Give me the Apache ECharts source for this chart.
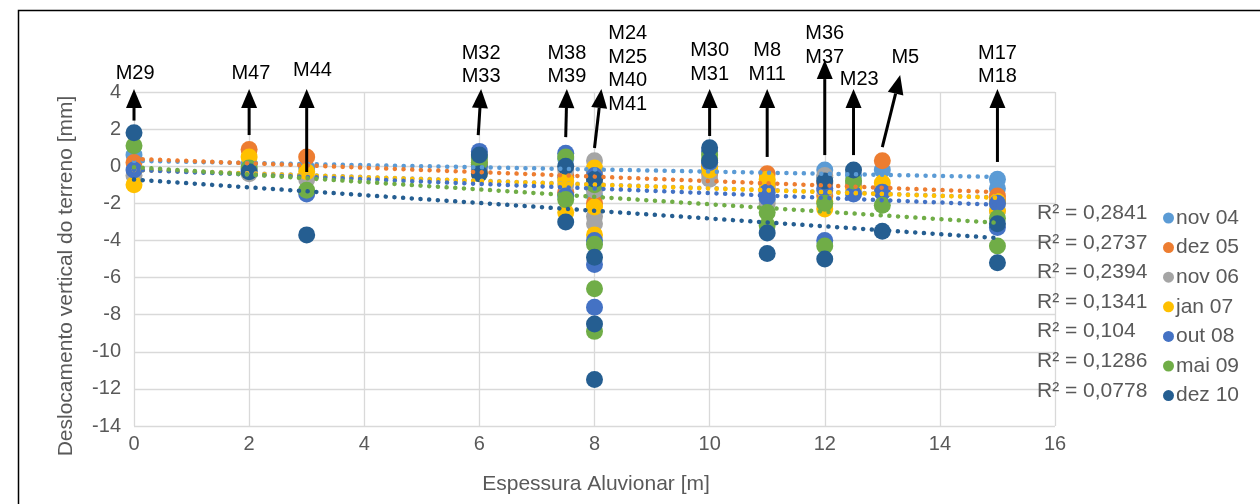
<!DOCTYPE html>
<html>
<head>
<meta charset="utf-8">
<script src="https://cdn.jsdelivr.net/npm/echarts@6/dist/echarts.min.js"></script>
<style>
  html, body { margin: 0; padding: 0; background: #fff; }
  #main { width: 1260px; height: 504px; }
</style>
</head>
<body>
<div id="main"></div>
<script>
// Alluvial thickness [m] of each benchmark (one entry per benchmark)
const thickness = [0, 2, 3, 6, 6, 7.5, 7.5, 8, 8, 8, 8, 10, 10, 11, 11, 12, 12, 12.5, 13, 15, 15];

// Vertical ground displacement [mm] per survey campaign
const seriesNames = ['nov 04', 'dez 05', 'nov 06', 'jan 07', 'out 08', 'mai 09', 'dez 10'];
const nov04 = [0.6, 0.1, -0.1, 0.4, 0.1, 0.4, -0.6, -0.3, -0.8, -1.2, -1.6, 0.2, -0.2, -1.0, -1.8, -0.2, -0.6, -0.5, -0.2, -0.7, -1.2];
const dez05 = [0.2, 0.9, 0.5, 0.2, -0.3, -0.5, -1.4, -0.2, -0.6, -1.0, -2.0, 0.0, -0.4, -0.4, -1.2, -0.9, -1.6, -1.0, 0.3, -1.6, -1.8];
const nov06 = [-0.5, -0.4, -0.7, 0.3, -0.2, -0.2, -1.0, 0.3, -1.3, -2.7, -3.1, -0.3, -0.7, -0.9, -2.0, -0.5, -1.3, -0.9, -1.2, -2.0, -2.4];
const jan07 = [-1.0, 0.5, -0.3, 0.1, -0.4, -0.8, -2.5, -0.1, -0.6, -2.2, -3.7, 0.0, -0.2, -0.7, -1.0, -1.9, -2.3, -1.2, -0.9, -1.9, -2.4];
const out08 = [-0.2, -0.2, -1.5, 0.8, 0.0, 0.7, -1.6, -0.5, -4.0, -5.3, -7.6, 0.8, 0.2, -1.4, -1.7, -1.2, -4.0, -1.5, -1.4, -2.0, -3.3];
const mai09 = [1.1, -0.1, -1.3, 0.5, 0.2, 0.5, -1.8, -1.0, -4.2, -6.6, -8.9, 0.6, 0.4, -2.5, -3.2, -2.0, -4.3, -0.8, -2.1, -2.8, -4.3];
const dez10 = [1.8, -0.3, -3.7, 0.6, -0.4, 0.0, -3.0, -0.7, -4.9, -8.5, -11.5, 1.0, 0.3, -3.6, -4.7, -0.8, -5.0, -0.2, -3.5, -3.1, -5.2];
const seriesValues = [nov04, dez05, nov06, jan07, out08, mai09, dez10];

// Linear trend lines: value at 0 m and at 15 m, with their R²
const trendStart = [0.29, 0.40, -0.18, -0.20, -0.20, -0.05, -0.72];
const trendEnd = [-0.58, -1.40, -1.68, -1.70, -2.08, -3.05, -3.87];
const trendRange = [0, 15];
const r2Labels = ['0,2841', '0,2737', '0,2394', '0,1341', '0,104', '0,1286', '0,0778'];

// Axis ticks
const xTicks = { min: 0, max: 16, step: 2 };
const yTicks = { min: -14, max: 4, step: 2 };

// Benchmark call-outs (data units): label lines, arrow tail, arrow tip, label anchor
const calloutText = [['M29'], ['M47'], ['M44'], ['M32', 'M33'], ['M38', 'M39'], ['M24', 'M25', 'M40', 'M41'],
  ['M30', 'M31'], ['M8', 'M11'], ['M36', 'M37'], ['M23'], ['M5'], ['M17', 'M18']];
const calloutTail = [[0, 2.46], [2, 1.68], [3, -0.31], [5.98, 1.68], [7.5, 1.57], [8.0, 0.98],
  [10, 1.63], [11, 0.5], [12, 0.6], [12.5, 0.6], [13, 1.03], [15, 0.23]];
const calloutTip = [[0, 4.16], [2, 4.16], [3, 4.16], [6.03, 4.16], [7.52, 4.16], [8.12, 4.16],
  [10, 4.16], [11, 4.16], [12, 5.72], [12.5, 4.16], [13.31, 4.91], [15, 4.16]];
const calloutAnchor = [[0.02, 5.02], [2.03, 5.02], [3.1, 5.18], [6.03, 4.81], [7.52, 4.81], [8.24, 3.35],
  [10, 4.97], [11, 4.97], [12, 5.88], [12.6, 4.70], [13.4, 5.88], [15, 4.81]];
const calloutAlign = ['center', 'center', 'center', 'center', 'center', 'left',
  'center', 'center', 'center', 'center', 'center', 'center'];

const colors = ['#5B9BD5', '#ED7D31', '#A5A5A5', '#FFC000', '#4472C4', '#70AD47', '#255E91'];
const FONT = '"Liberation Sans", Arial, sans-serif';
const GREY = '#595959';

const chart = echarts.init(document.getElementById('main'), null, { renderer: 'canvas' });

const series = [];
seriesNames.forEach((name, i) => {
  series.push({
    name: name,
    type: 'scatter',
    symbol: 'circle',
    symbolSize: 17,
    itemStyle: { color: colors[i], opacity: 1 },
    z: 2,
    data: thickness.map((x, k) => [x, seriesValues[i][k]])
  });
});
seriesNames.forEach((name, i) => {
  series.push({
    name: 'tendência ' + name,
    type: 'line',
    showSymbol: false,
    symbol: 'none',
    silent: true,
    z: 3,
    lineStyle: { color: colors[i], width: 4.5, type: [0.1, 8.6], cap: 'round' },
    data: [[trendRange[0], trendStart[i]], [trendRange[1], trendEnd[i]]]
  });
});

chart.setOption({
  animation: false,
  color: colors,
  grid: { left: 134, right: 205, top: 92, bottom: 78, containLabel: false },
  xAxis: {
    type: 'value', min: xTicks.min, max: xTicks.max, interval: xTicks.step,
    axisLine: { show: false }, axisTick: { show: false },
    axisLabel: { color: GREY, fontSize: 20, fontFamily: FONT, margin: 8 },
    splitLine: { show: true, lineStyle: { color: '#D9D9D9', width: 1.3 } }
  },
  yAxis: {
    type: 'value', min: yTicks.min, max: yTicks.max, interval: yTicks.step,
    axisLine: { show: false }, axisTick: { show: false },
    axisLabel: { color: GREY, fontSize: 20, fontFamily: FONT, margin: 13 },
    splitLine: { show: true, lineStyle: { color: '#D9D9D9', width: 1.3 } }
  },
  legend: {
    data: seriesNames,
    orient: 'vertical',
    left: 1158, top: 202.5,
    icon: 'circle', itemWidth: 11, itemHeight: 11, itemGap: 8.6,
    textStyle: { color: GREY, fontSize: 21, fontFamily: FONT, lineHeight: 21, padding: [0, 0, 0, -3] }
  },
  series: series
});

// Overlay: frame, axis titles, R² labels and benchmark call-outs
const g = [];
g.push({ type: 'rect', shape: { x: 18.5, y: 10.5, width: 1400, height: 700 }, style: { fill: 'none', stroke: '#000', lineWidth: 1.5 }, z: 100 });
g.push({ type: 'text', x: 596, y: 484, style: { text: 'Espessura Aluvionar [m]', fill: GREY, font: '21px ' + FONT, textAlign: 'center', textVerticalAlign: 'middle' }, z: 100 });
g.push({ type: 'text', x: 66, y: 276, rotation: Math.PI / 2, style: { text: 'Deslocamento vertical do terreno [mm]', fill: GREY, font: '21px ' + FONT, textAlign: 'center', textVerticalAlign: 'middle' }, z: 100 });
r2Labels.forEach((r, i) => {
  g.push({ type: 'text', x: 1037, y: 213.3 + i * 29.6, style: { text: 'R² = ' + r, fill: GREY, font: '21px ' + FONT, textAlign: 'left', textVerticalAlign: 'middle' }, z: 100 });
});

const toPx = (p) => chart.convertToPixel({ xAxisIndex: 0, yAxisIndex: 0 }, p);
calloutText.forEach((lines, i) => {
  const a = toPx(calloutTail[i]);
  const b = toPx(calloutTip[i]);
  const dx = b[0] - a[0], dy = b[1] - a[1];
  const len = Math.sqrt(dx * dx + dy * dy);
  const ux = dx / len, uy = dy / len;
  const headLen = 19, halfW = 8;
  const bx = b[0] - ux * headLen, by = b[1] - uy * headLen;
  g.push({ type: 'line', shape: { x1: a[0], y1: a[1], x2: bx, y2: by }, style: { stroke: '#000', lineWidth: 3 }, z: 100 });
  g.push({ type: 'polygon', shape: { points: [[b[0], b[1]], [bx - uy * halfW, by + ux * halfW], [bx + uy * halfW, by - ux * halfW]] }, style: { fill: '#000' }, z: 100 });
  const c = toPx(calloutAnchor[i]);
  const n = lines.length;
  lines.forEach((t, k) => {
    g.push({ type: 'text', x: c[0], y: c[1] - (n - 1 - k) * 23.4, style: { text: t, fill: '#000', font: '20px ' + FONT, textAlign: calloutAlign[i], textVerticalAlign: 'middle' }, z: 101 });
  });
});
chart.setOption({ graphic: g });
</script>
</body>
</html>
